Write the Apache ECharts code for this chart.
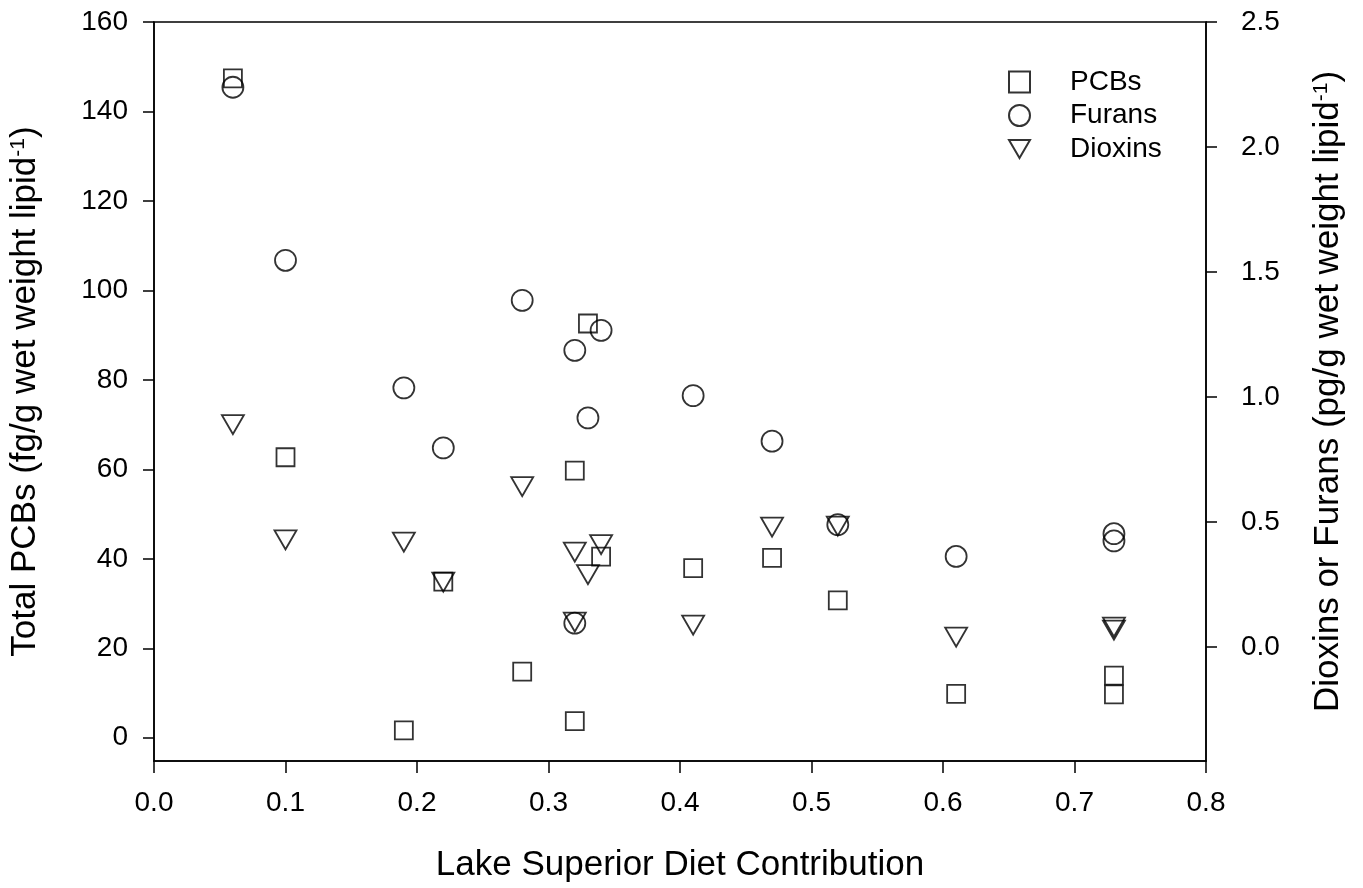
<!DOCTYPE html>
<html>
<head>
<meta charset="utf-8">
<script src="https://cdn.jsdelivr.net/npm/echarts@6/dist/echarts.min.js"></script>
<style>
html,body{margin:0;padding:0;background:#fff;}
#chart{width:1363px;height:888px;}
</style>
</head>
<body>
<div id="chart"></div>
<script>
// Lake Superior diet contribution (x) for each sample
const dietContribution = [0.06, 0.10, 0.19, 0.22, 0.28, 0.32, 0.32, 0.33, 0.34, 0.41, 0.47, 0.52, 0.61, 0.73, 0.73];
// Total PCBs (fg/g wet weight lipid^-1), left axis
const pcbs = [147.4, 62.7, 1.65, 34.9, 14.8, 59.7, 3.7, 92.6, 40.5, 37.9, 40.2, 30.7, 9.8, 13.9, 9.7];
// Furans (pg/g wet weight lipid^-1), right axis
const furans = [2.239, 1.547, 1.037, 0.797, 1.387, 1.187, 0.096, 0.917, 1.267, 1.006, 0.824, 0.49, 0.363, 0.454, 0.425];
// Dioxins (pg/g wet weight lipid^-1), right axis
const dioxins = [0.89, 0.429, 0.42, 0.26, 0.642, 0.38, 0.10, 0.29, 0.41, 0.088, 0.48, 0.484, 0.04, 0.08, 0.068];

const leftTicks = [0, 20, 40, 60, 80, 100, 120, 140, 160];
const rightTicks = [0, 0.5, 1.0, 1.5, 2.0, 2.5];
const seriesNames = ['PCBs', 'Furans', 'Dioxins'];

const FONT = "'Liberation Sans', Arial, Helvetica, sans-serif";
const pair = (ys) => dietContribution.map((x, i) => [x, ys[i]]);
const markerStyle = {color: 'rgba(0,0,0,0)', borderColor: '#000', borderWidth: 1.8};
const downTri = 'path://M0,0L22,0L11,19Z';

const chart = echarts.init(document.getElementById('chart'), null, {renderer: 'canvas'});
chart.setOption({
  animation: false,
  backgroundColor: '#fff',
  textStyle: {fontFamily: FONT, color: '#000'},
  grid: {left: 151, right: 157, top: 22, bottom: 127, show: true, borderColor: '#000', borderWidth: 1.5, containLabel: false},
  legend: {
    orient: 'vertical',
    left: 1008, top: 68,
    padding: 0,
    itemWidth: 21, itemHeight: 21,
    itemGap: 5.5,
    selectedMode: false,
    textStyle: {fontFamily: FONT, fontSize: 28, color: '#000', padding: [0, 0, 0, 35], lineHeight: 28},
    data: [
      {name: seriesNames[0], icon: 'rect'},
      {name: seriesNames[1], icon: 'circle'},
      {name: seriesNames[2], icon: downTri}
    ]
  },
  xAxis: {
    type: 'value', min: 0, max: 0.8, interval: 0.1,
    name: 'Lake Superior Diet Contribution',
    nameLocation: 'middle', nameGap: 87,
    nameTextStyle: {fontFamily: FONT, fontSize: 35, color: '#000'},
    axisLine: {show: true, onZero: false, lineStyle: {color: '#000', width: 1.5}},
    axisTick: {show: true, inside: false, length: 12, lineStyle: {color: '#000', width: 1.5}},
    axisLabel: {fontFamily: FONT, fontSize: 28, color: '#000', margin: 28, formatter: v => v.toFixed(1)},
    splitLine: {show: false}
  },
  yAxis: [
    {
      type: 'value', position: 'left', min: -5.2, max: 160,
      name: 'Total PCBs (fg/g wet weight lipid{sup|-1})',
      nameLocation: 'middle', nameGap: 111,
      nameTextStyle: {fontFamily: FONT, fontSize: 35, color: '#000',
        rich: {sup: {fontFamily: FONT, fontSize: 21, lineHeight: 21, verticalAlign: 'top', color: '#000'}}},
      axisLine: {show: true, onZero: false, lineStyle: {color: '#000', width: 1.5}},
      axisTick: {show: true, inside: false, length: 11, customValues: leftTicks, lineStyle: {color: '#000', width: 1.5}},
      axisLabel: {fontFamily: FONT, fontSize: 28, color: '#000', margin: 26, customValues: leftTicks, formatter: v => String(v)},
      splitLine: {show: false}
    },
    {
      type: 'value', position: 'right', min: -0.455, max: 2.5,
      name: 'Dioxins or Furans (pg/g wet weight lipid{sup|-1})',
      nameLocation: 'middle', nameGap: 105,
      nameTextStyle: {fontFamily: FONT, fontSize: 35, color: '#000',
        rich: {sup: {fontFamily: FONT, fontSize: 21, lineHeight: 21, verticalAlign: 'top', color: '#000'}}},
      axisLine: {show: true, onZero: false, lineStyle: {color: '#000', width: 1.5}},
      axisTick: {show: true, inside: false, length: 11, customValues: rightTicks, lineStyle: {color: '#000', width: 1.5}},
      axisLabel: {fontFamily: FONT, fontSize: 28, color: '#000', margin: 35, customValues: rightTicks, formatter: v => v.toFixed(1)},
      splitLine: {show: false}
    }
  ],
  series: [
    {name: seriesNames[0], type: 'scatter', yAxisIndex: 0, symbol: 'rect', symbolSize: 18,
     itemStyle: markerStyle, emphasis: {disabled: true}, data: pair(pcbs)},
    {name: seriesNames[1], type: 'scatter', yAxisIndex: 1, symbol: 'circle', symbolSize: 21,
     itemStyle: markerStyle, emphasis: {disabled: true}, data: pair(furans)},
    {name: seriesNames[2], type: 'scatter', yAxisIndex: 1, symbol: downTri, symbolSize: [22, 19],
     symbolKeepAspect: false,
     itemStyle: markerStyle, emphasis: {disabled: true}, data: pair(dioxins)}
  ]
});
</script>
</body>
</html>
